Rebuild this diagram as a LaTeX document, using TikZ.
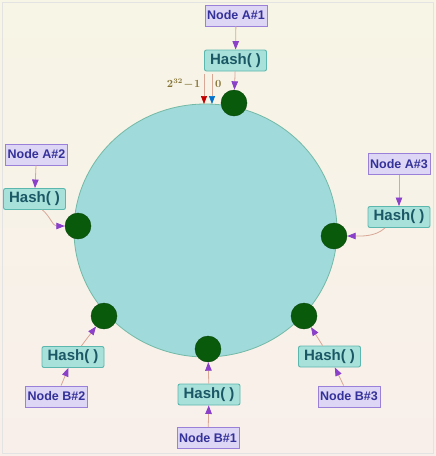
\documentclass[tikz,border=0pt]{standalone}
\usepackage{fontspec}
\setmainfont{Liberation Sans}
\usetikzlibrary{arrows.meta}
\definecolor{bgtop}{HTML}{F7F5E6}
\definecolor{bgbot}{HTML}{F8EFEA}
\definecolor{ringfill}{HTML}{A0DADB}
\definecolor{ringline}{HTML}{74B9A6}
\definecolor{dotgreen}{HTML}{0A5A0C}
\definecolor{hashfill}{HTML}{A8E0DA}
\definecolor{hashline}{HTML}{5CB8AE}
\definecolor{hashtext}{HTML}{1B5866}
\definecolor{namefill}{HTML}{DDD6F4}
\definecolor{nameline}{HTML}{9A80D8}
\definecolor{nametext}{HTML}{34319A}
\definecolor{shaft}{HTML}{D9A796}
\definecolor{tipcol}{HTML}{8A40C8}
\definecolor{marktext}{HTML}{857235}
\tikzset{
  hashbox/.style={draw=hashline, fill=hashfill, line width=0.9pt, rounded corners=2pt,
    minimum width=62pt, minimum height=21pt, inner sep=1pt, text=hashtext,
    font=\fontsize{15}{15}\selectfont\bfseries},
  namebox/.style={draw=nameline, fill=namefill, line width=0.9pt,
    minimum width=62pt, minimum height=21pt, inner sep=1pt, text=nametext,
    font=\fontsize{12.5}{12.5}\selectfont\bfseries},
  ringdot/.style={circle, fill=dotgreen, draw=dotgreen!80!black, minimum size=26pt, inner sep=0pt},
  link/.style={draw=shaft, line width=0.8pt, -{Triangle[length=8.5pt, width=6.5pt, color=tipcol]}},
}
\begin{document}
\begin{tikzpicture}[x=1pt, y=-1pt]
  %%%%% START %%%%%
  \useasboundingbox (0,0) rectangle (436,456);
  \shade[top color=bgtop, bottom color=bgbot] (0,0) rectangle (436,456);
  \draw[gray!22, line width=1pt] (2,2) rectangle (433,453);

  \draw[fill=ringfill, draw=ringline, line width=0.8pt] (205.5,230.5) ellipse (131.5 and 126.5);

  % marker for 2^32-1 | 0
  \coordinate (maxTop) at (204,74);
  \coordinate (maxEnd) at (204,104);
  \coordinate (zeroTop) at (212,74);
  \coordinate (zeroEnd) at (212,104);
  \draw[draw=shaft, line width=0.7pt, -{Triangle[length=8pt, width=6pt, color=red!75!black]}] (maxTop) -- (maxEnd);
  \draw[draw=shaft, line width=0.7pt, -{Triangle[length=8pt, width=6pt, color=blue!45!cyan!80!black]}] (zeroTop) -- (zeroEnd);
  \node[text=marktext, anchor=east, inner sep=1pt, font=\fontsize{10.5}{10.5}\selectfont\boldmath] (maxLabel) at (201.5,84) {$2^{32}\!-\!1$};
  \node[text=marktext, anchor=west, inner sep=1pt, font=\fontsize{10.5}{10.5}\selectfont\boldmath] (zeroLabel) at (214,84) {$0$};

  % points on the ring
  \node[ringdot] (dotA1) at (234,103) {};
  \node[ringdot] (dotA2) at (78,226) {};
  \node[ringdot] (dotA3) at (334,236) {};
  \node[ringdot] (dotB2) at (104,316) {};
  \node[ringdot] (dotB1) at (208,349) {};
  \node[ringdot] (dotB3) at (304,316) {};

  % node A#1
  \node[namebox] (nameA1) at (236,15.5) {Node A\#1};
  \node[hashbox] (hashA1) at (235.5,60.5) {Hash( )};
  \draw[link] (nameA1) -- (hashA1);
  \draw[link] (hashA1) -- (dotA1);

  % node A#2
  \node[namebox] (nameA2) at (36.5,154.5) {Node A\#2};
  \node[hashbox] (hashA2) at (34.5,199) {Hash( )};
  \draw[link] (nameA2) -- (hashA2);
  \draw[link] ([xshift=8pt]hashA2.south) .. controls +(8,7) and +(-12,0) .. (dotA2.west);

  % node A#3
  \node[namebox] (nameA3) at (399,164) {Node A\#3};
  \node[hashbox] (hashA3) at (399,217) {Hash( )};
  \draw[link] (nameA3) -- (hashA3);
  \draw[link] ([xshift=-14pt]hashA3.south) .. controls +(-10,9) and +(14,0) .. (dotA3.east);

  % node B#1
  \node[hashbox] (hashB1) at (209,394.5) {Hash( )};
  \node[namebox] (nameB1) at (208,438) {Node B\#1};
  \draw[link] (nameB1) -- (hashB1);
  \draw[link] (hashB1) -- (dotB1);

  % node B#2
  \node[hashbox] (hashB2) at (73,357) {Hash( )};
  \node[namebox] (nameB2) at (56.5,396.5) {Node B\#2};
  \draw[link] (nameB2) -- (hashB2);
  \draw[link] (hashB2) -- (dotB2);

  % node B#3
  \node[hashbox] (hashB3) at (329.5,356.5) {Hash( )};
  \node[namebox] (nameB3) at (349,396.5) {Node B\#3};
  \draw[link] (nameB3) -- (hashB3);
  \draw[link] (hashB3) -- (dotB3);
  %%%%% END %%%%%
\end{tikzpicture}
\end{document}
